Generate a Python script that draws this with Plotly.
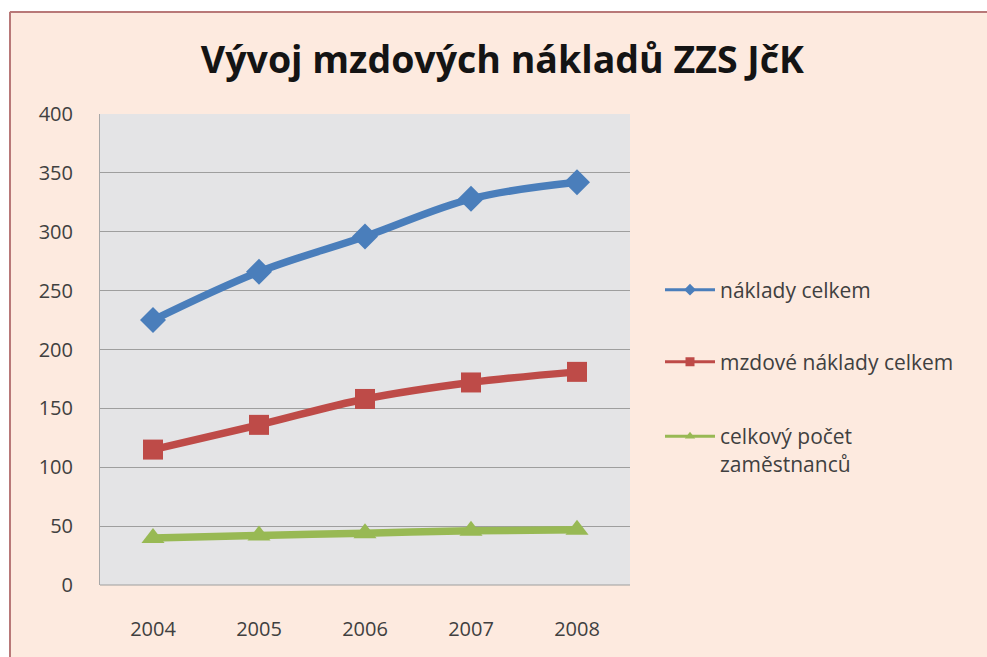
import plotly.graph_objects as go

years = [2004, 2005, 2006, 2007, 2008]
naklady_celkem = [225, 266, 296, 328, 342]
mzdove_naklady = [115, 136, 158, 172, 181]
pocet_zamestnancu = [40, 42, 44, 46, 47]
names = ["náklady celkem", "mzdové náklady celkem", "celkový počet<br>zaměstnanců"]
colors = ["#4a7ebb", "#be4b48", "#98b954"]
symbols = ["diamond", "square", "triangle-up"]
series = [naklady_celkem, mzdove_naklady, pocet_zamestnancu]
y_ticks = [0, 50, 100, 150, 200, 250, 300, 350, 400]

W, H = 987, 657
L, R, T, B = 100, 357, 114, 72
pw, ph = W - L - R, H - T - B

def px_x(p):
    return (p - L) / pw

def px_y(p):
    return (H - B - p) / ph

legend_ids = ["legend", "legend2", "legend3"]

fig = go.Figure()
for vals, nm, col, sym in zip(series, names, colors, symbols):
    fig.add_trace(go.Scatter(x=years, y=vals, name=nm, mode="lines+markers",
                             line=dict(color=col, width=7.5, shape="spline"),
                             marker=dict(symbol=sym, size=20, color=col),
                             showlegend=False))
# legend entries (thin lines, small markers as in the original legend)
for nm, col, sym, lg in zip(names, colors, symbols, legend_ids):
    fig.add_trace(go.Scatter(x=[None], y=[None], name=nm, mode="lines+markers",
                             line=dict(color=col, width=3),
                             marker=dict(symbol=sym, size=9, color=col),
                             showlegend=True, legend=lg))

legend_common = dict(bgcolor="rgba(0,0,0,0)", font=dict(family="Open Sans", size=21, color="#404040"),
                     xanchor="left", itemwidth=50, valign="top")

fig.update_layout(
    width=W, height=H,
    showlegend=True,
    margin=dict(l=L, r=R, t=T, b=B),
    paper_bgcolor="#fdeadf",
    plot_bgcolor="#e4e4e6",
    title=dict(text="<b>Vývoj mzdových nákladů ZZS JčK</b>", x=0.509, xanchor="center",
               y=1 - 60 / H, yanchor="middle",
               font=dict(family="Open Sans", size=37.5, color="#141414")),
    xaxis=dict(range=[2003.5, 2008.5], tickvals=years, ticktext=[str(y) for y in years],
               showgrid=False, zeroline=False, showline=False, ticks="",
               ticklabelstandoff=30,
               tickfont=dict(family="Open Sans", size=20, color="#404040")),
    yaxis=dict(range=[0, 400], tickvals=y_ticks, showgrid=True, gridcolor="#9e9e9e", gridwidth=1,
               zeroline=False, showline=True, linecolor="#a8a8a8", linewidth=1, ticks="",
               ticklabelstandoff=22,
               tickfont=dict(family="Open Sans", size=20, color="#404040")),
    legend=dict(x=px_x(660), y=px_y(290), yanchor="middle", **legend_common),
    legend2=dict(x=px_x(660), y=px_y(362), yanchor="middle", **legend_common),
    legend3=dict(x=px_x(660), y=px_y(416), yanchor="top", **legend_common),
    shapes=[
        dict(type="rect", xref="paper", yref="paper", x0=px_x(0), x1=px_x(W),
             y0=px_y(11), y1=px_y(0), fillcolor="white", line=dict(width=0), layer="below"),
        dict(type="rect", xref="paper", yref="paper", x0=px_x(0), x1=px_x(9),
             y0=px_y(H), y1=px_y(0), fillcolor="white", line=dict(width=0), layer="below"),
        dict(type="line", xref="paper", yref="paper", x0=px_x(10), x1=px_x(W),
             y0=px_y(12), y1=px_y(12), line=dict(color="#b87878", width=2), layer="below"),
        dict(type="line", xref="paper", yref="paper", x0=px_x(10), x1=px_x(10),
             y0=px_y(12), y1=px_y(H), line=dict(color="#b87878", width=2), layer="below"),
        dict(type="line", xref="paper", yref="paper", x0=0, x1=1,
             y0=0, y1=0, line=dict(color="#9e9e9e", width=1), layer="below"),
    ],
)

fig.write_html("out.html", config={"displayModeBar": False},
               post_script="document.body.style.margin='0';document.body.style.overflow='hidden';")
